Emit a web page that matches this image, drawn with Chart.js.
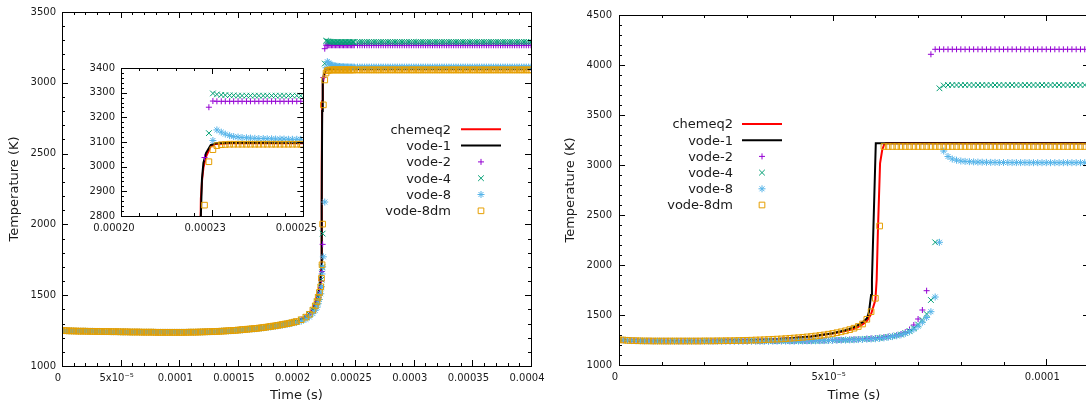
<!DOCTYPE html>
<html>
<head>
<meta charset="utf-8">
<script src="https://cdn.jsdelivr.net/npm/chart.js@4/dist/chart.umd.min.js"></script>
<style>
  html, body { margin: 0; padding: 0; background: #fff; overflow: hidden; width: 1086px; height: 406px; }
  .box { position: absolute; }
</style>
</head>
<body>
<div class="box" style="left:0;top:0;width:560px;height:406px"><canvas id="left"></canvas></div>
<div class="box" style="left:60px;top:55px;width:270px;height:190px"><canvas id="inset"></canvas></div>
<div class="box" style="left:543px;top:0;width:560px;height:406px"><canvas id="right"></canvas></div>
<script>
// ---- left panel (times in microseconds) ----
const timeL = [
  0, 2, 4, 6, 8, 10, 12, 14, 16, 18,
  20, 22, 24, 26, 28, 30, 32, 34, 36, 38,
  40, 42, 44, 46, 48, 50, 52, 54, 56, 58,
  60, 62, 64, 66, 68, 70, 72, 74, 76, 78,
  80, 82, 84, 86, 88, 90, 92, 94, 96, 98,
  100, 102, 104, 106, 108, 110, 112, 114, 116, 118,
  120, 122, 124, 126, 128, 130, 132, 134, 136, 138,
  140, 142, 144, 146, 148, 150, 152, 154, 156, 158,
  160, 162, 164, 166, 168, 170, 172, 174, 176, 178,
  180, 182, 184, 186, 188, 190, 192, 194, 196, 198,
  200,
  204, 208, 211, 214, 216, 217.5, 218.5, 219.6, 220.7, 221.3, 221.8, 222.3,
  222.9, 224.1, 225.2, 226.3, 227.5, 228.6, 229.8, 230.9, 232.1, 233.2, 234.4, 235.5,
  236.7, 237.8, 239, 240.1, 241.3, 242.4, 243.6, 244.7, 245.9, 247, 248.2, 249.3,
  252, 254, 256, 258, 260, 262, 264, 266, 268, 270,
  272, 274, 276, 278, 280, 282, 284, 286, 288, 290,
  292, 294, 296, 298, 300, 302, 304, 306, 308, 310,
  312, 314, 316, 318, 320, 322, 324, 326, 328, 330,
  332, 334, 336, 338, 340, 342, 344, 346, 348, 350,
  352, 354, 356, 358, 360, 362, 364, 366, 368, 370,
  372, 374, 376, 378, 380, 382, 384, 386, 388, 390,
  392, 394, 396, 398, 400
];
const vode2L = [
  1250, 1250, 1249, 1248, 1248, 1247, 1247, 1246, 1246, 1246,
  1246, 1245, 1245, 1245, 1244, 1244, 1244, 1243, 1243, 1243,
  1243, 1242, 1242, 1242, 1242, 1241, 1241, 1241, 1241, 1240,
  1240, 1240, 1240, 1240, 1239, 1239, 1239, 1239, 1239, 1239,
  1238, 1238, 1238, 1238, 1238, 1238, 1238, 1238, 1238, 1238,
  1238, 1238, 1238, 1238, 1239, 1239, 1239, 1239, 1240, 1240,
  1241, 1241, 1242, 1242, 1243, 1243, 1244, 1245, 1246, 1247,
  1248, 1249, 1250, 1251, 1252, 1254, 1255, 1257, 1258, 1260,
  1261, 1263, 1264, 1266, 1268, 1270, 1272, 1274, 1277, 1279,
  1282, 1284, 1287, 1290, 1293, 1296, 1299, 1302, 1306, 1310,
  1314,
  1327, 1345, 1365, 1395, 1425, 1455, 1485, 1515, 1555, 1600, 1667, 1859,
  3037, 3241, 3266, 3265, 3265, 3265, 3265, 3265, 3265, 3265, 3265, 3265,
  3265, 3265, 3265, 3265, 3265, 3265, 3265, 3265, 3265, 3265, 3265, 3265,
  3265, 3265, 3265, 3265, 3265, 3265, 3265, 3265, 3265, 3265,
  3265, 3265, 3265, 3265, 3265, 3265, 3265, 3265, 3265, 3265,
  3265, 3265, 3265, 3265, 3265, 3265, 3265, 3265, 3265, 3265,
  3265, 3265, 3265, 3265, 3265, 3265, 3265, 3265, 3265, 3265,
  3265, 3265, 3265, 3265, 3265, 3265, 3265, 3265, 3265, 3265,
  3265, 3265, 3265, 3265, 3265, 3265, 3265, 3265, 3265, 3265,
  3265, 3265, 3265, 3265, 3265, 3265, 3265, 3265, 3265, 3265,
  3265, 3265, 3265, 3265, 3265
];
const vode4L = [
  1250, 1250, 1249, 1248, 1248, 1247, 1247, 1246, 1246, 1246,
  1246, 1245, 1245, 1245, 1244, 1244, 1244, 1243, 1243, 1243,
  1243, 1242, 1242, 1242, 1242, 1241, 1241, 1241, 1241, 1240,
  1240, 1240, 1240, 1240, 1239, 1239, 1239, 1239, 1239, 1239,
  1238, 1238, 1238, 1238, 1238, 1238, 1238, 1238, 1238, 1238,
  1238, 1238, 1238, 1238, 1239, 1239, 1239, 1239, 1240, 1240,
  1241, 1241, 1242, 1242, 1243, 1243, 1244, 1245, 1246, 1247,
  1248, 1249, 1250, 1251, 1252, 1254, 1255, 1257, 1258, 1260,
  1261, 1263, 1264, 1266, 1268, 1270, 1272, 1274, 1277, 1279,
  1282, 1284, 1287, 1290, 1293, 1296, 1299, 1302, 1306, 1310,
  1314,
  1327, 1345, 1365, 1395, 1425, 1455, 1485, 1515, 1555, 1610, 1696, 1935,
  null, 3136, 3297, 3293, 3291, 3290, 3289, 3289, 3288, 3288, 3288, 3288,
  3288, 3288, 3288, 3288, 3288, 3288, 3288, 3288, 3288, 3288, 3288, 3288,
  3288, 3288, 3288, 3288, 3288, 3288, 3288, 3288, 3288, 3288,
  3288, 3288, 3288, 3288, 3288, 3288, 3288, 3288, 3288, 3288,
  3288, 3288, 3288, 3288, 3288, 3288, 3288, 3288, 3288, 3288,
  3288, 3288, 3288, 3288, 3288, 3288, 3288, 3288, 3288, 3288,
  3288, 3288, 3288, 3288, 3288, 3288, 3288, 3288, 3288, 3288,
  3288, 3288, 3288, 3288, 3288, 3288, 3288, 3288, 3288, 3288,
  3288, 3288, 3288, 3288, 3288, 3288, 3288, 3288, 3288, 3288,
  3288, 3288, 3288, 3288, 3288
];
const vode8L = [
  1250, 1250, 1249, 1248, 1248, 1247, 1247, 1246, 1246, 1246,
  1246, 1245, 1245, 1245, 1244, 1244, 1244, 1243, 1243, 1243,
  1243, 1242, 1242, 1242, 1242, 1241, 1241, 1241, 1241, 1240,
  1240, 1240, 1240, 1240, 1239, 1239, 1239, 1239, 1239, 1239,
  1238, 1238, 1238, 1238, 1238, 1238, 1238, 1238, 1238, 1238,
  1238, 1238, 1238, 1238, 1239, 1239, 1239, 1239, 1240, 1240,
  1241, 1241, 1242, 1242, 1243, 1243, 1244, 1245, 1246, 1247,
  1247, 1248, 1249, 1250, 1251, 1252, 1254, 1255, 1257, 1258,
  1259, 1261, 1262, 1264, 1266, 1268, 1270, 1272, 1274, 1276,
  1279, 1281, 1284, 1287, 1289, 1292, 1295, 1298, 1302, 1306,
  1309,
  1316, 1330, 1346, 1370, 1393, 1415, 1440, 1470, 1510, 1560, 1650, 1700,
  1771, 2158, 3106, 3149, 3140, 3132, 3126, 3122, 3120, 3118, 3117, 3116,
  3115, 3114, 3114, 3113, 3113, 3112, 3112, 3112, 3111, 3111, 3111, 3111,
  3111, 3111, 3111, 3111, 3111, 3111, 3111, 3111, 3111, 3111,
  3111, 3111, 3111, 3111, 3111, 3111, 3111, 3111, 3111, 3111,
  3111, 3111, 3111, 3111, 3111, 3111, 3111, 3111, 3111, 3111,
  3111, 3111, 3111, 3111, 3111, 3111, 3111, 3111, 3111, 3111,
  3111, 3111, 3111, 3111, 3111, 3111, 3111, 3111, 3111, 3111,
  3111, 3111, 3111, 3111, 3111, 3111, 3111, 3111, 3111, 3111,
  3111, 3111, 3111, 3111, 3111, 3111, 3111, 3111, 3111, 3111,
  3111, 3111, 3111, 3111, 3111
];
const vode8dmL = [
  1250, 1250, 1249, 1248, 1248, 1247, 1247, 1246, 1246, 1246,
  1246, 1245, 1245, 1245, 1244, 1244, 1244, 1243, 1243, 1243,
  1243, 1242, 1242, 1242, 1242, 1241, 1241, 1241, 1241, 1240,
  1240, 1240, 1240, 1240, 1239, 1239, 1239, 1239, 1239, 1239,
  1238, 1238, 1238, 1238, 1238, 1238, 1238, 1238, 1238, 1238,
  1238, 1238, 1238, 1238, 1239, 1239, 1239, 1239, 1240, 1240,
  1241, 1241, 1242, 1242, 1243, 1243, 1244, 1245, 1246, 1247,
  1248, 1249, 1250, 1251, 1252, 1254, 1255, 1257, 1258, 1260,
  1261, 1263, 1264, 1266, 1268, 1270, 1272, 1274, 1277, 1279,
  1282, 1284, 1287, 1290, 1293, 1296, 1299, 1302, 1306, 1310,
  1314,
  1327, 1345, 1365, 1395, 1425, 1455, 1485, 1520, 1560, 1620, 1715, 2002,
  2844, 3020, 3069, 3085, 3089, 3090, 3091, 3091, 3091, 3091, 3091, 3091,
  3091, 3091, 3091, 3091, 3091, 3091, 3091, 3091, 3091, 3091, 3091, 3091,
  3091, 3091, 3091, 3091, 3091, 3091, 3091, 3091, 3091, 3091,
  3091, 3091, 3091, 3091, 3091, 3091, 3091, 3091, 3091, 3091,
  3091, 3091, 3091, 3091, 3091, 3091, 3091, 3091, 3091, 3091,
  3091, 3091, 3091, 3091, 3091, 3091, 3091, 3091, 3091, 3091,
  3091, 3091, 3091, 3091, 3091, 3091, 3091, 3091, 3091, 3091,
  3091, 3091, 3091, 3091, 3091, 3091, 3091, 3091, 3091, 3091,
  3091, 3091, 3091, 3091, 3091, 3091, 3091, 3091, 3091, 3091,
  3091, 3091, 3091, 3091, 3091
];
const lineTimeL = [0, 20, 40, 60, 80, 100, 120, 140, 160, 180, 200, 208, 214, 218, 220, 221, 221.5, 221.9, 222.2, 222.6, 223.3, 224.6, 226, 230, 260, 300, 350, 400];
const chemeq2L = [1250, 1246, 1243, 1240, 1238, 1238, 1241, 1248, 1261, 1282, 1314, 1345, 1395, 1485, 1570, 1700, 2400, 2870, 2940, 2995, 3040, 3082, 3092, 3095, 3095, 3095, 3095, 3095];
const vode1L = [1250, 1246, 1243, 1240, 1238, 1238, 1241, 1248, 1261, 1282, 1314, 1345, 1395, 1485, 1560, 1650, 2100, 2800, 2950, 3015, 3055, 3088, 3095, 3097, 3097, 3097, 3097, 3097];

// ---- right panel (times in microseconds) ----
const timeR = [
  0, 1, 2, 3, 4, 5, 6, 7, 8, 9,
  10, 11, 12, 13, 14, 15, 16, 17, 18, 19,
  20, 21, 22, 23, 24, 25, 26, 27, 28, 29,
  30, 31, 32, 33, 34, 35, 36, 37, 38, 39,
  40, 41, 42, 43, 44, 45, 46, 47, 48, 49,
  50, 51, 52, 53, 54, 55, 56, 57, 58, 59,
  60, 61, 62, 63, 64, 65, 66, 67, 68, 69,
  70, 71, 72, 73, 74, 75, 76, 77, 78, 79,
  80, 81, 82, 83, 84, 85, 86, 87, 88, 89,
  90, 91, 92, 93, 94, 95, 96, 97, 98, 99,
  100, 101, 102, 103, 104, 105, 106, 107, 108, 109, 110
];
const vode2R = [
  1252, 1249, 1246, 1244, 1242, 1241, 1240, 1240, 1239, 1239,
  1239, 1238, 1238, 1238, 1238, 1238, 1238, 1238, 1238, 1238,
  1238, 1238, 1238, 1238, 1238, 1238, 1238, 1238, 1238, 1238,
  1238, 1238, 1238, 1238, 1238, 1238, 1239, 1239, 1239, 1239,
  1239, 1239, 1240, 1240, 1241, 1241, 1242, 1243, 1244, 1246,
  1248, 1249, 1251, 1252, 1254, 1256, 1258, 1260, 1263, 1266,
  1269, 1273, 1278, 1284, 1291, 1299, 1310, 1328, 1355, 1400,
  1460, 1550, 1743, 4107, 4157, 4157, 4157, 4157, 4157, 4157,
  4157, 4157, 4157, 4157, 4157, 4157, 4157, 4157, 4157, 4157,
  4157, 4157, 4157, 4157, 4157, 4157, 4157, 4157, 4157, 4157,
  4157, 4157, 4157, 4157, 4157, 4157, 4157, 4157, 4157, 4157, 4157
];
const vode4R = [
  1252, 1249, 1246, 1244, 1242, 1241, 1240, 1240, 1239, 1239,
  1239, 1238, 1238, 1238, 1238, 1238, 1238, 1238, 1238, 1238,
  1238, 1238, 1238, 1238, 1238, 1238, 1238, 1238, 1238, 1238,
  1238, 1238, 1238, 1238, 1238, 1238, 1239, 1239, 1239, 1239,
  1239, 1239, 1240, 1240, 1241, 1241, 1242, 1243, 1244, 1245,
  1247, 1248, 1250, 1251, 1253, 1254, 1256, 1258, 1260, 1262,
  1265, 1270, 1275, 1281, 1288, 1296, 1305, 1320, 1340, 1368,
  1405, 1450, 1510, 1650, 2227, 3767, 3795, 3800, 3800, 3800,
  3800, 3800, 3800, 3800, 3800, 3800, 3800, 3800, 3800, 3800,
  3800, 3800, 3800, 3800, 3800, 3800, 3800, 3800, 3800, 3800,
  3800, 3800, 3800, 3800, 3800, 3800, 3800, 3800, 3800, 3800, 3800
];
const vode8R = [
  1252, 1249, 1246, 1244, 1242, 1241, 1240, 1240, 1239, 1239,
  1239, 1238, 1238, 1238, 1238, 1238, 1238, 1238, 1238, 1238,
  1238, 1238, 1238, 1238, 1238, 1238, 1238, 1238, 1238, 1238,
  1238, 1238, 1238, 1238, 1238, 1238, 1239, 1239, 1239, 1239,
  1239, 1239, 1240, 1240, 1241, 1241, 1242, 1243, 1244, 1245,
  1246, 1247, 1248, 1249, 1251, 1252, 1254, 1256, 1258, 1260,
  1262, 1266, 1271, 1277, 1284, 1292, 1302, 1315, 1333, 1357,
  1388, 1428, 1475, 1533, 1680, 2227, 3140, 3085, 3060, 3048,
  3040, 3036, 3033, 3031, 3029, 3028, 3027, 3026, 3026, 3025,
  3025, 3025, 3024, 3024, 3024, 3024, 3024, 3023, 3023, 3023,
  3023, 3023, 3023, 3023, 3023, 3023, 3023, 3023, 3023, 3023, 3023
];
const vode8dmR = [
  1252, 1250, 1246, 1244, 1243, 1242, 1241, 1241, 1240, 1240,
  1240, 1240, 1240, 1240, 1240, 1240, 1240, 1240, 1240, 1240,
  1241, 1241, 1241, 1242, 1242, 1243, 1243, 1244, 1245, 1246,
  1247, 1248, 1250, 1251, 1253, 1255, 1257, 1259, 1261, 1264,
  1267, 1270, 1273, 1277, 1281, 1285, 1290, 1295, 1301, 1308,
  1315, 1323, 1332, 1342, 1354, 1368, 1385, 1410, 1457, 1533,
  1667, 2390, 3185, 3185, 3185, 3185, 3185, 3185, 3185, 3185,
  3185, 3185, 3185, 3185, 3185, 3185, 3185, 3185, 3185, 3185,
  3185, 3185, 3185, 3185, 3185, 3185, 3185, 3185, 3185, 3185,
  3185, 3185, 3185, 3185, 3185, 3185, 3185, 3185, 3185, 3185,
  3185, 3185, 3185, 3185, 3185, 3185, 3185, 3185, 3185, 3185, 3185
];
const chemTimeR = [0, 2, 5, 10, 20, 30, 35, 40, 45, 50, 53, 55, 56, 57, 58, 59, 60, 60.3, 60.6, 61.1, 61.6, 62.1, 62.5, 110];
const chemeq2R = [1252, 1246, 1242, 1240, 1241, 1247, 1255, 1267, 1285, 1315, 1340, 1362, 1382, 1405, 1440, 1510, 1650, 1850, 2350, 3017, 3150, 3210, 3217, 3217];
const vode1TimeR = [0, 2, 5, 10, 20, 30, 35, 40, 45, 50, 53, 55, 56, 57, 58, 58.5, 59, 59.2, 60.1, 110];
const vode1R = [1252, 1246, 1242, 1240, 1241, 1247, 1255, 1267, 1285, 1318, 1348, 1378, 1400, 1428, 1465, 1530, 1700, 1850, 3217, 3217];

// ---- tick values and labels ----
const xTicksL = [0, 50, 100, 150, 200, 250, 300, 350, 400];
const xLabelsL = ['0', '5x10\u207B\u2075', '0.0001', '0.00015', '0.0002', '0.00025', '0.0003', '0.00035', '0.0004'];
const yTicksL = [1000, 1500, 2000, 2500, 3000, 3500];
const xTicksIn = [200, 225, 250];
const xLabelsIn = ['0.00020', '0.00023', '0.00025'];
const yTicksIn = [2800, 2900, 3000, 3100, 3200, 3300, 3400];
const xTicksR = [0, 50, 100];
const xLabelsR = ['0', '5x10\u207B\u2075', '0.0001'];
const yTicksR = [1000, 1500, 2000, 2500, 3000, 3500, 4000, 4500];

const ink = '#1a1a1a';
Chart.defaults.font.family = '"DejaVu Sans", sans-serif';

const pts = (t, v) => t.map((x, i) => ({ x: x, y: v[i] }));

function line(label, t, v, color, order) {
  return { label, data: pts(t, v), showLine: true, borderColor: color, borderWidth: 2,
    pointRadius: 0, tension: 0, order };
}
function marks(label, t, v, color, style, r, order) {
  return { label, data: pts(t, v), showLine: false, borderColor: color,
    pointBorderColor: color, pointBackgroundColor: 'rgba(0,0,0,0)', pointBorderWidth: 1,
    pointStyle: style, pointRadius: r, order };
}

function leftSets() {
  return [
    line('chemeq2', lineTimeL, chemeq2L, '#ff0000', 6),
    line('vode-1', lineTimeL, vode1L, '#000000', 5),
    marks('vode-2', timeL, vode2L, '#9400d3', 'cross', 3, 4),
    marks('vode-4', timeL, vode4L, '#009e73', 'crossRot', 4, 3),
    marks('vode-8', timeL, vode8L, '#56b4e9', 'star', 3.5, 2),
    marks('vode-8dm', timeL, vode8dmL, '#e69f00', 'rect', 4, 1)
  ];
}
function rightSets() {
  return [
    line('chemeq2', chemTimeR, chemeq2R, '#ff0000', 6),
    line('vode-1', vode1TimeR, vode1R, '#000000', 5),
    marks('vode-2', timeR, vode2R, '#9400d3', 'cross', 3, 4),
    marks('vode-4', timeR, vode4R, '#009e73', 'crossRot', 4, 3),
    marks('vode-8', timeR, vode8R, '#56b4e9', 'star', 3.5, 2),
    marks('vode-8dm', timeR, vode8dmR, '#e69f00', 'rect', 4, 1)
  ];
}

function xAxis(min, max, vals, labels, o) {
  return {
    type: 'linear', min, max, bounds: 'data',
    grid: { display: false, drawTicks: false }, border: { display: false },
    afterBuildTicks: s => { s.ticks = vals.map(v => ({ value: v })); },
    afterFit: s => { s.height = o.size; },
    ticks: { autoSkip: false, maxRotation: 0, padding: o.pad, labelOffset: o.shift,
      color: ink, font: { size: 10 }, callback: (v, i) => labels[i] },
    title: { display: !!o.title, text: o.title || '', color: ink, font: { size: 13 },
      padding: { top: 0, bottom: 3 } }
  };
}
function yAxis(min, max, vals, o) {
  return {
    type: 'linear', min, max, bounds: 'data',
    grid: { display: false, drawTicks: false }, border: { display: false },
    afterBuildTicks: s => { s.ticks = vals.map(v => ({ value: v })); },
    afterFit: s => { s.width = o.size; },
    ticks: { autoSkip: false, padding: o.pad, color: ink, font: { size: 10 },
      callback: v => String(v) },
    title: { display: !!o.title, text: o.title || '', color: ink, font: { size: 13 },
      padding: { top: o.titlePad || 0, bottom: 0 } }
  };
}

// gnuplot style box with inward ticks on all four sides
const frame = {
  id: 'frame',
  afterDatasetsDraw(chart, args, opt) {
    const { ctx, chartArea: a } = chart;
    const xs = chart.scales.x, ys = chart.scales.y;
    ctx.save();
    ctx.strokeStyle = '#000';
    ctx.lineWidth = 1;
    ctx.beginPath();
    const tx = (v, len) => {
      const p = Math.round(xs.getPixelForValue(v)) + 0.5;
      ctx.moveTo(p, a.bottom); ctx.lineTo(p, a.bottom - len);
      ctx.moveTo(p, a.top); ctx.lineTo(p, a.top + len);
    };
    const ty = (v, len) => {
      const p = Math.round(ys.getPixelForValue(v)) + 0.5;
      ctx.moveTo(a.left, p); ctx.lineTo(a.left + len, p);
      ctx.moveTo(a.right, p); ctx.lineTo(a.right - len, p);
    };
    for (let v = xs.min; v <= xs.max + 1e-9; v += opt.xMinor) tx(v, 3);
    for (let v = ys.min; v <= ys.max + 1e-9; v += opt.yMinor) ty(v, 3);
    xs.ticks.forEach(t => tx(t.value, 6));
    ys.ticks.forEach(t => ty(t.value, 6));
    ctx.stroke();
    ctx.strokeRect(Math.round(a.left) + 0.5, Math.round(a.top) + 0.5,
      Math.round(a.right - a.left), Math.round(a.bottom - a.top));
    ctx.restore();
  }
};

// gnuplot style key: text right aligned, sample to its right
const key = {
  id: 'key',
  afterDraw(chart, args, o) {
    if (!o.show) return;
    const { ctx } = chart;
    ctx.save();
    ctx.font = '13px "DejaVu Sans"';
    ctx.textAlign = 'right';
    ctx.textBaseline = 'middle';
    chart.data.datasets.forEach((d, i) => {
      const y = o.top + i * o.step;
      ctx.fillStyle = ink;
      ctx.fillText(d.label, o.textRight, y + 1);
      if (d.showLine) {
        ctx.strokeStyle = d.borderColor;
        ctx.lineWidth = d.borderWidth;
        ctx.beginPath();
        ctx.moveTo(o.from, y); ctx.lineTo(o.to, y);
        ctx.stroke();
      } else {
        ctx.strokeStyle = d.pointBorderColor;
        ctx.fillStyle = 'rgba(0,0,0,0)';
        ctx.lineWidth = 1;
        Chart.helpers.drawPoint(ctx, { pointStyle: d.pointStyle, radius: d.pointRadius,
          borderWidth: 1, rotation: 0 }, (o.from + o.to) / 2, y);
      }
    });
    ctx.restore();
  }
};

function make(id, sets, scales, padding, frameOpt, keyOpt) {
  return new Chart(document.getElementById(id), {
    type: 'scatter',
    data: { datasets: sets },
    options: {
      responsive: true, maintainAspectRatio: false, animation: false, events: [],
      layout: { padding },
      scales,
      plugins: { legend: { display: false }, tooltip: { enabled: false },
        frame: frameOpt, key: keyOpt }
    },
    plugins: [frame, key]
  });
}

make('left', leftSets(), {
  x: xAxis(0, 400, xTicksL, xLabelsL, { size: 40, pad: 6, shift: -4, title: 'Time (s)' }),
  y: yAxis(1000, 3500, yTicksL, { size: 62, pad: 6, title: 'Temperature (K)', titlePad: 7 })
}, { top: 6, right: 29, left: 0, bottom: 0 },
  { xMinor: 10, yMinor: 100 },
  { show: true, textRight: 451, from: 461, to: 501, top: 129.3, step: 16.3 });

make('inset', leftSets(), {
  x: xAxis(200, 250, xTicksIn, xLabelsIn, { size: 29, pad: 6, shift: -7 }),
  y: yAxis(2800, 3400, yTicksIn, { size: 61, pad: 6 })
}, { top: 13, right: 25, left: 0, bottom: 0 },
  { xMinor: 5, yMinor: 20 },
  { show: false });

make('right', rightSets(), {
  x: xAxis(0, 110, xTicksR, xLabelsR, { size: 41, pad: 6, shift: -4, title: 'Time (s)' }),
  y: yAxis(1000, 4500, yTicksR, { size: 76, pad: 7, title: 'Temperature (K)', titlePad: 20 })
}, { top: 15, right: 14, left: 0, bottom: 0 },
  { xMinor: 10, yMinor: 100 },
  { show: true, textRight: 190, from: 199, to: 239, top: 124, step: 16.2 });
</script>
</body>
</html>
